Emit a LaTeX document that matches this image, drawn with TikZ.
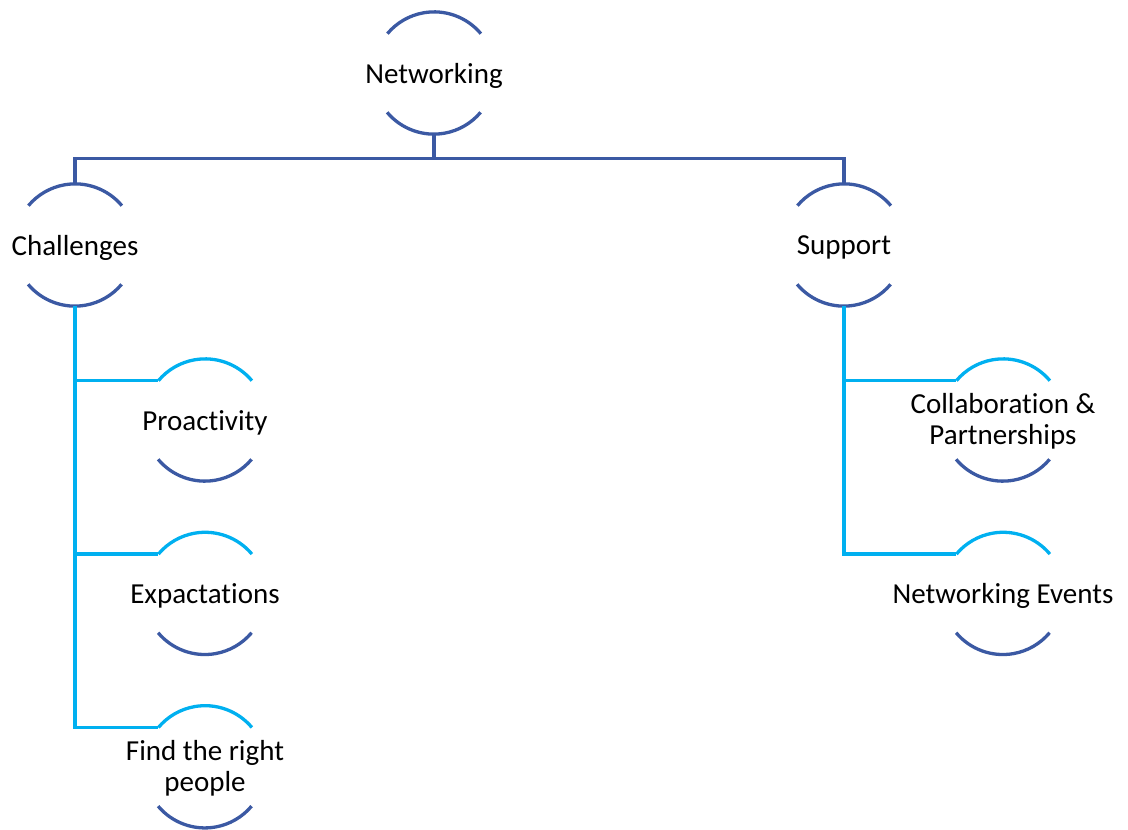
\documentclass[tikz,border=0pt]{standalone}
\usepackage{fontspec}
\setmainfont{Carlito}[Ligatures=NoCommon]
\usetikzlibrary{positioning}
\definecolor{darkblue}{RGB}{59,89,163}
\definecolor{lightblue}{RGB}{0,176,240}

\begin{document}
\begin{tikzpicture}[x=1pt,y=1pt,font=\fontsize{29}{31}\selectfont,
  halfcirc/.style={circle,draw=none,minimum size=122pt,inner sep=0pt},
  every label/.style={yshift=-2.5pt},
  dkline/.style={darkblue,line width=3.3pt},
  ltline/.style={lightblue,line width=3.3pt}]

\useasboundingbox (0,0) rectangle (1128,-830);

% --- nodi: radice e primo livello
\node[halfcirc,label={center:Networking}] (net) at (434,-73) {};
\node[halfcirc,label={center:Challenges}] (chal) at (75,-245) {};
\node[halfcirc,label={center:Support}] (supp) at (844,-245) {};

% --- figli di Challenges
\node[halfcirc,label={center:Proactivity}] (pro) at (205,-420) {};
\node[halfcirc,below=51pt of pro,label={center:Expactations}] (expt) {};
\node[halfcirc,below=51pt of expt,label={[align=center,yshift=1.5pt]center:Find the right\\people}] (find) {};

% --- figli di Support
\node[halfcirc,label={[align=center,yshift=1.5pt]center:Collaboration \&\\Partnerships}] (collab) at (1003,-420) {};
\node[halfcirc,below=51pt of collab,label={center:Networking Events}] (events) {};

% --- archi
\foreach \n in {net,chal,supp}{
  \draw[dkline] (\n.40) arc[start angle=40,end angle=140,radius=61pt];
  \draw[dkline] (\n.220) arc[start angle=220,end angle=320,radius=61pt];
}
\foreach \n in {pro,expt,find,collab,events}{
  \draw[ltline] (\n.40) arc[start angle=40,end angle=140,radius=61pt];
  \draw[dkline] (\n.220) arc[start angle=220,end angle=320,radius=61pt];
}

% --- connettori
\draw[dkline] (net.south) -- ++(0,-24) -| (chal.north);
\draw[dkline] (net.south) -- ++(0,-24) -| (supp.north);
\foreach \c in {pro,expt,find}
  \draw[ltline] (chal.south) |- (\c.140);
\foreach \c in {collab,events}
  \draw[ltline] (supp.south) |- (\c.140);

\end{tikzpicture}
\end{document}
